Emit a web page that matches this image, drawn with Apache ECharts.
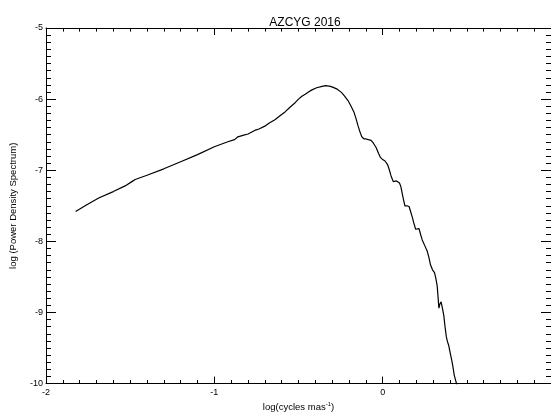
<!DOCTYPE html>
<html>
<head>
<meta charset="utf-8">
<script src="https://cdn.jsdelivr.net/npm/echarts@6/dist/echarts.min.js"></script>
<style>
html,body{margin:0;padding:0;background:#fff;}
#chart{width:551px;height:417px;}
</style>
</head>
<body>
<div id="chart"></div>
<script>
// log(cycles mas^-1)
var logFreq = [
-1.824,-1.76,-1.687,-1.60,-1.53,-1.49,-1.47,-1.40,-1.30,-1.20,-1.10,-1.00,-0.92,-0.88,-0.86,-0.83,-0.80,
-0.76,-0.735,-0.70,-0.676,-0.64,-0.608,-0.58,-0.549,-0.52,-0.50,-0.48,-0.46,-0.441,-0.42,-0.392,-0.36,
-0.339,-0.31,-0.294,-0.27,-0.245,-0.225,-0.206,-0.19,-0.171,-0.16,-0.147,-0.135,-0.124,-0.11,-0.098,
-0.085,-0.069,-0.055,-0.039,-0.025,-0.013,0.000,0.014,0.029,0.039,0.05,0.063,0.072,0.082,0.092,0.100,
0.108,0.12,0.132,0.145,0.157,0.166,0.176,0.186,0.196,0.206,0.216,0.225,0.235,0.25,0.265,0.275,0.284,
0.296,0.308,0.316,0.324,0.329,0.334,0.340,0.347,0.355,0.363,0.370,0.378,0.385,0.392,0.402,0.412,0.420,
0.425,0.433,0.441
];
// log(Power Density Spectrum)
var logPower = [
-7.58,-7.49,-7.39,-7.30,-7.22,-7.16,-7.13,-7.07,-6.98,-6.88,-6.78,-6.67,-6.60,-6.57,-6.53,-6.51,-6.49,
-6.44,-6.42,-6.38,-6.34,-6.29,-6.23,-6.18,-6.11,-6.05,-6.00,-5.96,-5.93,-5.90,-5.87,-5.84,-5.82,
-5.81,-5.82,-5.835,-5.86,-5.905,-5.96,-6.02,-6.09,-6.18,-6.26,-6.37,-6.46,-6.53,-6.56,-6.56,
-6.57,-6.58,-6.62,-6.68,-6.76,-6.82,-6.85,-6.87,-6.92,-6.99,-7.08,-7.16,-7.17,-7.15,-7.14,-7.18,
-7.23,-7.37,-7.50,-7.50,-7.51,-7.58,-7.66,-7.75,-7.83,-7.82,-7.82,-7.90,-7.98,-8.06,-8.14,-8.23,-8.33,
-8.40,-8.44,-8.52,-8.63,-8.78,-8.94,-8.88,-8.85,-8.94,-9.04,-9.19,-9.34,-9.41,-9.46,-9.58,-9.69,-9.80,
-9.88,-9.95,-10.02
];
var xTicks = [-2, -1, 0, 1];
var yTicks = [-10, -9, -8, -7, -6, -5];
var titleText = 'AZCYG 2016';

var points = logFreq.map(function (x, i) { return [x, logPower[i]]; });

var FONT = '"Liberation Sans", Arial, Helvetica, sans-serif';
var chart = echarts.init(document.getElementById('chart'), null, {renderer: 'canvas'});

function xAxisBase(pos, showLabel) {
  return {
    type: 'value', position: pos,
    min: xTicks[0], max: xTicks[xTicks.length - 1], interval: 1,
    axisLine: {show: true, onZero: false, lineStyle: {color: '#000', width: 1}},
    axisTick: {show: true, inside: true, length: 7, lineStyle: {color: '#000', width: 1}},
    minorTick: {show: true, splitNumber: 10, length: 3.6, lineStyle: {color: '#000', width: 1}},
    splitLine: {show: false}, minorSplitLine: {show: false},
    axisLabel: {show: showLabel, margin: 4, color: '#000', fontSize: 9, fontFamily: FONT,
      showMaxLabel: false,
      formatter: function (v) { return String(v); }}
  };
}
function yAxisBase(pos, showLabel) {
  return {
    type: 'value', position: pos,
    min: yTicks[0], max: yTicks[yTicks.length - 1], interval: 1,
    axisLine: {show: true, onZero: false, lineStyle: {color: '#000', width: 1}},
    axisTick: {show: true, inside: true, length: 10, lineStyle: {color: '#000', width: 1}},
    minorTick: {show: true, splitNumber: 10, length: 5, lineStyle: {color: '#000', width: 1}},
    splitLine: {show: false}, minorSplitLine: {show: false},
    axisLabel: {show: showLabel, margin: 3, color: '#000', fontSize: 9, fontFamily: FONT,
      padding: [0, 0, 6, 0],
      formatter: function (v) { return String(v); }}
  };
}

var xb = xAxisBase('bottom', true);
xb.name = 'log(cycles mas{sup|-1})';
xb.nameLocation = 'middle';
xb.nameGap = 9;
xb.nameTextStyle = {color: '#000', fontSize: 9.5, fontFamily: FONT,
  rich: {sup: {fontSize: 6, color: '#000', fontFamily: FONT, verticalAlign: 'top', padding: [0, 0, 5, 0]}}};
var xt = xAxisBase('top', false);

var yl = yAxisBase('left', true);
yl.name = 'log (Power Density Spectrum)';
yl.nameLocation = 'middle';
yl.nameGap = 28;
yl.nameTextStyle = {color: '#000', fontSize: 9.5, fontFamily: FONT};
var yr = yAxisBase('right', false);

chart.setOption({
  animation: false,
  backgroundColor: '#fff',
  title: {
    text: titleText, left: 300, top: 12, textAlign: 'center',
    textStyle: {color: '#000', fontSize: 12, fontWeight: 'normal', fontFamily: FONT}
  },
  grid: {left: 45, top: 28, width: 510, height: 361, containLabel: false},
  xAxis: [xb, xt],
  yAxis: [yl, yr],
  series: [{
    type: 'line', data: points, xAxisIndex: 0, yAxisIndex: 0,
    showSymbol: false, symbol: 'none', smooth: false, clip: true,
    lineStyle: {color: '#000', width: 1.2}
  }]
});
</script>
</body>
</html>
